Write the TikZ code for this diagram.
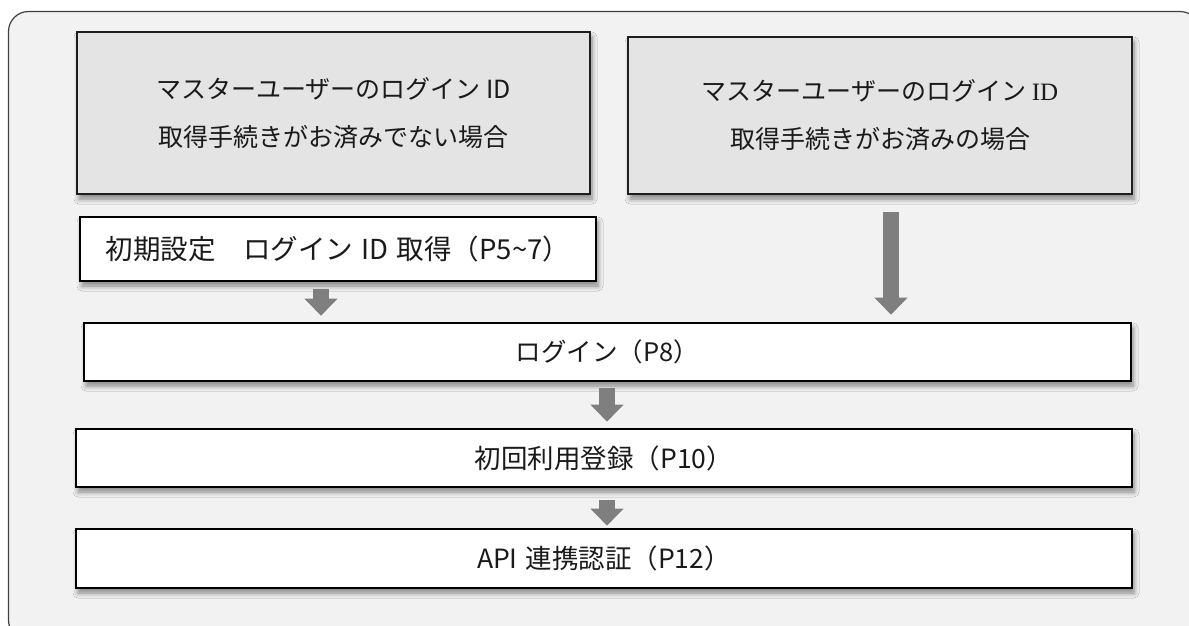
\documentclass[tikz,border=0pt]{standalone}
\usepackage{fontspec}
\setmainfont{Noto Sans CJK JP}
\newfontfamily\idserif{Liberation Serif}
\usetikzlibrary{arrows.meta,shadows.blur}
\definecolor{framefill}{HTML}{F2F2F2}
\definecolor{framedraw}{HTML}{404040}
\definecolor{grayfill}{HTML}{E4E4E4}
\definecolor{boxdraw}{HTML}{1E1E1E}
\definecolor{arrowgray}{HTML}{7F7F7F}
\definecolor{textcol}{HTML}{1A1A1A}
\tikzset{
  boxshadow/.style={blur shadow={shadow xshift=2pt,shadow yshift=-5pt,shadow blur radius=5pt,shadow opacity=45,shadow blur steps=6}},
  graybox/.style={draw=boxdraw,fill=grayfill,line width=2.2pt,boxshadow,align=center,inner sep=0pt,
    text=textcol,font=\fontsize{25}{48}\selectfont},
  whitebox/.style={draw=black,fill=white,line width=2.6pt,boxshadow,align=center,inner sep=0pt,
    text=textcol,font=\fontsize{26.5}{30}\selectfont},
  blockarrow/.style={draw=arrowgray,line width=16pt,-{Triangle[width=32pt,length=17pt]}},
}
\begin{document}
\begin{tikzpicture}[x=1pt,y=-1pt]
\useasboundingbox (0,0) rectangle (1189,625);
% outer frame
\draw[framedraw,fill=framefill,line width=1.2pt,rounded corners=20pt] (8.5,11.5) rectangle (1200,640);
% boxes
\node[graybox,minimum width=513pt,minimum height=162pt] (A) at (333.5,113)
  {マスターユーザーのログイン ID\\取得手続きがお済みでない場合};
\node[graybox,minimum width=504pt,minimum height=157pt] (B) at (880,115.5)
  {マスターユーザーのログイン {\idserif ID}\\取得手続きがお済みの場合};
\node[whitebox,minimum width=516pt,minimum height=64pt,font=\fontsize{27.5}{30}\selectfont] (C) at (338,249)
  {初期設定\hspace{1em}ログイン\hspace{0.3em}ID\hspace{0.3em}取得（P5\textasciitilde 7）};
\node[whitebox,minimum width=1047pt,minimum height=58pt,font=\fontsize{25.5}{30}\selectfont] (D) at (607.5,352) {ログイン（P8）};
\node[whitebox,minimum width=1056pt,minimum height=58pt] (E) at (604,458) {初回利用登録（P10）};
\node[whitebox,minimum width=1056pt,minimum height=59pt] (F) at (604,558.5) {API\hspace{0.3em}連携認証（P12）};
% arrow positions
\coordinate (xa) at (321,0);
\coordinate (xb) at (891,0);
\coordinate (xc) at (607,0);
\draw[blockarrow,shorten <=7pt,shorten >=6pt] (C.south -| xa) -- (D.north -| xa);
\draw[blockarrow,shorten <=17pt,shorten >=7pt] (B.south -| xb) -- (D.north -| xb);
\draw[blockarrow,shorten <=6pt,shorten >=6pt] (D.south -| xc) -- (E.north -| xc);
\draw[blockarrow,shorten <=12pt,shorten >=2pt] (E.south -| xc) -- (F.north -| xc);
\end{tikzpicture}
\end{document}
